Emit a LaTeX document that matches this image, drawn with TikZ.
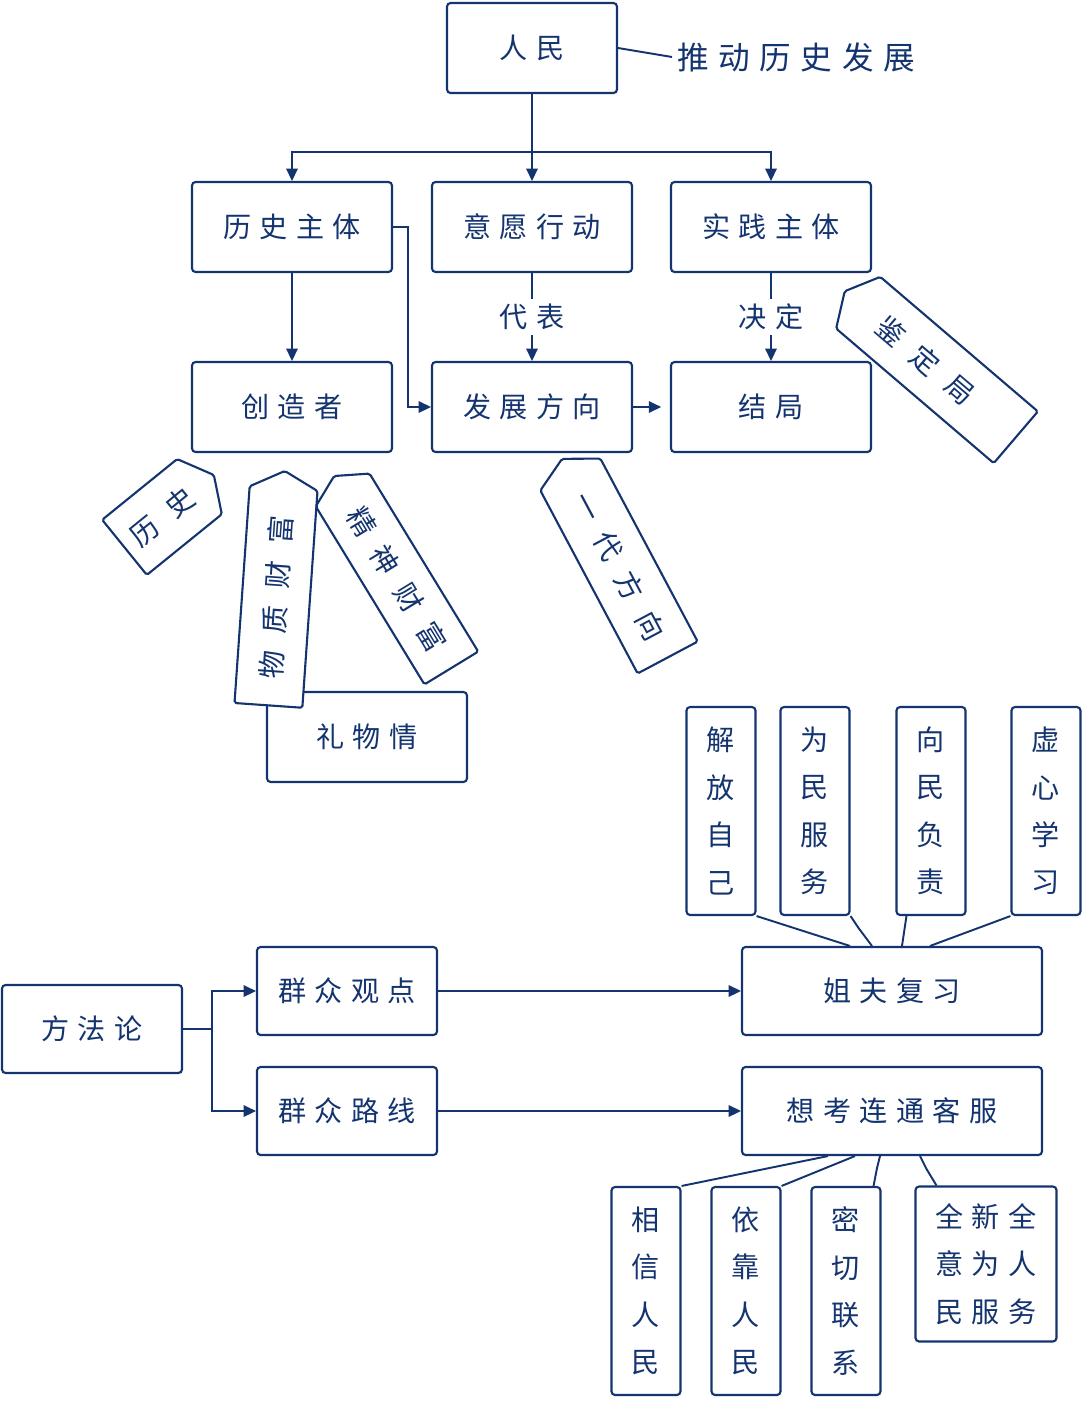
\documentclass[tikz,border=0pt]{standalone}
\usepackage{fontspec}
\newfontfamily\cjk[LetterSpace=30]{Noto Sans CJK SC}
\newfontfamily\cjkw[LetterSpace=60]{Noto Sans CJK SC}
\newfontfamily\cjkn{Noto Sans CJK SC}
\usetikzlibrary{arrows.meta,shapes.symbols}
\definecolor{ink}{RGB}{20,52,112}
\begin{document}
\begin{tikzpicture}[x=0.02cm,y=-0.02cm,
  link/.style={draw=ink,line width=1.1pt},
  arr/.style={link,-{Triangle[length=7pt,width=6.5pt]}},
  box/.style={draw=ink,line width=1.2pt,rounded corners=2pt,fill=white,text=ink,
    font=\cjk\fontsize{16}{27}\selectfont,inner sep=2pt},
  wbox/.style={box,minimum width=4cm,minimum height=1.8cm},
  mbox/.style={box,minimum width=3.6cm,minimum height=1.76cm},
  lbox/.style={box,minimum width=6cm,minimum height=1.76cm},
  vbox/.style={box,font=\cjkn\fontsize{16}{27}\selectfont,align=center,
    minimum width=1.38cm,minimum height=4.16cm},
  tag/.style={box,font=\cjkw\fontsize{16}{27}\selectfont,rounded corners=1pt,
    shape=signal,signal pointer angle=125,minimum height=1.36cm},
  lbl/.style={fill=white,text=ink,font=\cjk\fontsize{16}{20}\selectfont,inner sep=3pt}]
  \useasboundingbox (0,0) rectangle (1087,1404);
  % upper part
  \node[box,minimum width=3.4cm,minimum height=1.8cm] (renmin) at (532,48) {人民};
  \node[lbl,font=\cjk\fontsize{18}{20}\selectfont,anchor=west] (tuidong) at (672,57) {推动历史发展};
  \draw[link] (renmin.east) -- (tuidong.west);
  \node[wbox] (lishi) at (292,227) {历史主体};
  \node[wbox] (yiyuan) at (532,227) {意愿行动};
  \node[wbox] (shijian) at (771,227) {实践主体};
  \node[wbox] (chuangzao) at (292,407) {创造者};
  \node[wbox] (fangxiang) at (532,407) {发展方向};
  \node[wbox] (jieju) at (771,407) {结局};
  \coordinate (fork) at (532,152);
  \draw[link] (renmin.south) -- (fork);
  \draw[arr] (fork) -| (lishi.north);
  \draw[arr] (fork) -- (yiyuan.north);
  \draw[arr] (fork) -| (shijian.north);
  \draw[arr] (lishi) -- (chuangzao);
  \draw[arr] (lishi.east) -- ++(15,0) |- (fangxiang.west);
  \draw[arr] (yiyuan) -- node[lbl] (daibiao) {代表} (fangxiang);
  \draw[arr] (shijian) -- node[lbl] (jueding) {决定} (jieju);
  \draw[arr,shorten >=5pt] (fangxiang) -- (jieju);
  % tags
  \node[wbox] (liwuqing) at (367,737) {礼物情};
  \node[tag,signal to=west,minimum width=4.5cm,rotate=-40.5] (jianding) at (937,370) {鉴定局\hspace*{0.6cm}};
  \node[tag,signal to=west,minimum width=4.5cm,rotate=-62] (yidai) at (619,566) {一代方向};
  \node[tag,signal to=east,minimum width=2.3cm,minimum height=1.42cm,rotate=39] (lishitag) at (162,517) {历史};
  \node[tag,signal to=east,minimum width=4.7cm,rotate=86] (wuzhi) at (276,597) {物质财富};
  \node[tag,signal to=west,minimum width=4.5cm,minimum height=1.26cm,rotate=-58.6] (jingshen) at (397,579) {精神财富};
  % lower part
  \node[mbox] (fangfa) at (92,1029) {方法论};
  \node[mbox] (guandian) at (347,991) {群众观点};
  \node[mbox] (luxian) at (347,1111) {群众路线};
  \node[lbox] (fuxi) at (892,991) {姐夫复习};
  \node[lbox] (kefu) at (892,1111) {想考连通客服};
  \coordinate (split) at (212,1029);
  \draw[link] (fangfa.east) -- (split);
  \draw[arr] (split) |- (guandian.west);
  \draw[arr] (split) |- (luxian.west);
  \draw[arr] (guandian) -- (fuxi);
  \draw[arr] (luxian) -- (kefu);
  \node[vbox] (jiefang) at (721,811) {解\\放\\自\\己};
  \node[vbox] (weimin) at (815,811) {为\\民\\服\\务};
  \node[vbox] (xiangmin) at (931,811) {向\\民\\负\\责};
  \node[vbox] (xuxin) at (1046,811) {虚\\心\\学\\习};
  \draw[link] (jiefang.south east) -- ([xshift=-0.84cm]fuxi.north);
  \draw[link] (weimin.south east) -- ++(8,12) -- ([xshift=-0.4cm]fuxi.north);
  \draw[link] ([xshift=0.22cm]xiangmin.south west) -- ([xshift=0.2cm]fuxi.north);
  \draw[link] (xuxin.south west) -- ([xshift=0.76cm]fuxi.north);
  \node[vbox] (xiangxin) at (646,1291) {相\\信\\人\\民};
  \node[vbox] (yikao) at (746,1291) {依\\靠\\人\\民};
  \node[vbox] (miqie) at (846,1291) {密\\切\\联\\系};
  \node[box,align=center,minimum width=2.82cm,minimum height=3.1cm] (quanxin) at (986,1264) {全新全\\意为人\\民服务};
  \draw[link] ([xshift=-1.28cm]kefu.south) -- (xiangxin.north east);
  \draw[link] ([xshift=-0.74cm]kefu.south) -- (yikao.north east);
  \draw[link] ([xshift=-0.24cm]kefu.south) -- ++(-3,12) -- ([xshift=-0.16cm]miqie.north east);
  \draw[link] ([xshift=0.56cm]kefu.south) -- ++(6,12) -- ([xshift=0.44cm]quanxin.north west);
\end{tikzpicture}
\end{document}
